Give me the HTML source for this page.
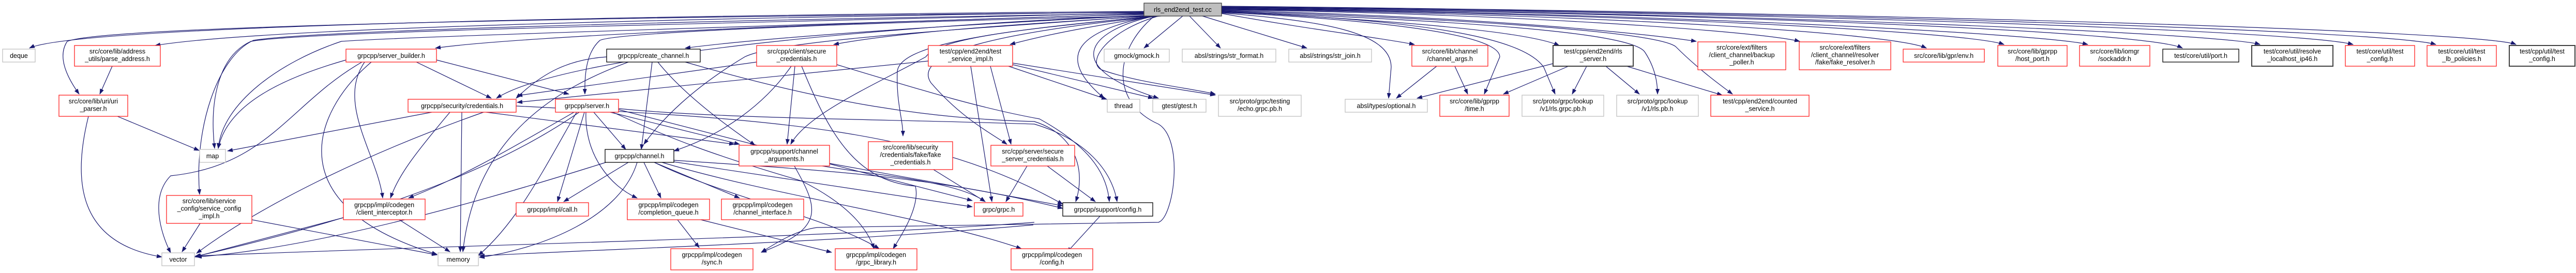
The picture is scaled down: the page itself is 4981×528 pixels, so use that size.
<!DOCTYPE html>
<html><head><meta charset="utf-8"><style>
html,body{margin:0;padding:0;background:#fff;}
svg{display:block;}
text{font-family:"Liberation Sans",sans-serif;font-size:12.5px;fill:#000;text-anchor:middle;}
.e{fill:none;stroke:#191970;stroke-width:1.2;marker-end:url(#a);}
.r{fill:#fff;stroke:#ff2020;stroke-width:1.3;}
.g{fill:#fff;stroke:#bfbfbf;stroke-width:1.3;}
.k{fill:#fff;stroke:#000;stroke-width:1.3;}
.d{fill:#fff;stroke:#404040;stroke-width:2;}
</style></head><body>
<svg width="4981" height="528" viewBox="0 0 4981 528" xmlns="http://www.w3.org/2000/svg">
<defs><marker id="a" markerUnits="userSpaceOnUse" markerWidth="11" markerHeight="8" refX="10" refY="4" orient="auto"><path d="M0,0 L11,4 L0,8 z" fill="#191970"/></marker></defs>
<g>
<path class="e" d="M2212,22 C1200,30 150,50 57,93"/>
<path class="e" d="M2212,23 C1300,35 500,55 300,88"/>
<path class="e" d="M2212,24 C1200,32 200,50 130,80 C110,110 130,150 153,182"/>
<path class="e" d="M2212,25 C1400,45 600,60 485,80 C420,110 405,200 415,287"/>
<path class="e" d="M2212,27 C1500,50 800,70 660,80 C540,120 430,200 422,287"/>
<path class="e" d="M2212,26 C1300,40 600,60 490,78 C420,110 375,250 386,376"/>
<path class="e" d="M2212,28 C1700,40 1000,70 842,93"/>
<path class="e" d="M2212,30 C1800,45 1100,100 960,190"/>
<path class="e" d="M2215,30 C1900,45 1500,70 1325,93"/>
<path class="e" d="M2215,31 C1800,40 1200,60 1160,78 C1135,100 1130,140 1131,182"/>
<path class="e" d="M2220,31 C1800,60 1500,80 1440,110 C1340,170 1280,230 1245,279"/>
<path class="e" d="M2225,31 C2000,45 1750,60 1612,86"/>
<path class="e" d="M2230,31 C2000,55 1820,70 1790,110 C1700,160 1560,220 1529,279"/>
<path class="e" d="M2235,31 C2150,45 2050,60 1953,86"/>
<path class="e" d="M2240,31 C1900,60 1735,90 1735,140 C1733,200 1746,230 1746,263"/>
<path class="e" d="M2245,31 C1950,60 1760,100 1800,160 C1860,230 1920,260 1947,279"/>
<path class="e" d="M2230,31 C2080,60 2040,110 2135,190"/>
<path class="e" d="M2232,31 C2100,60 2050,130 2240,190"/>
<path class="e" d="M2240,31 C2140,60 2100,120 2130,135 C2200,160 2300,170 2350,182"/>
<path class="e" d="M2232,31 C2150,100 2150,200 2240,240 C2290,270 2270,420 2240,430 L1580,440 C1540,445 1500,470 1472,488"/>
<path class="e" d="M2287,31 L2212,93"/>
<path class="e" d="M2300,31 L2360,93"/>
<path class="e" d="M2325,31 L2527,93"/>
<path class="e" d="M2362,26 C2550,60 2650,70 2735,86"/>
<path class="e" d="M2362,25 C2550,40 2690,60 2690,130 L2685,190"/>
<path class="e" d="M2362,24 C2600,35 2900,60 2900,110 L2870,182"/>
<path class="e" d="M2362,22 C2700,40 2950,60 3015,88"/>
<path class="e" d="M2362,23 C2800,40 2950,80 2985,130 L3007,182"/>
<path class="e" d="M2362,22 C2800,40 3150,60 3180,100 C3200,130 3205,160 3205,182"/>
<path class="e" d="M2362,21 C2800,35 3200,60 3240,90 C3280,130 3320,160 3350,182"/>
<path class="e" d="M2362,20 C2800,30 3150,60 3280,80"/>
<path class="e" d="M2362,19 C2900,25 3400,60 3480,80"/>
<path class="e" d="M2362,18 C3000,25 3650,60 3725,93"/>
<path class="e" d="M2362,17 C3100,25 3800,60 3875,86"/>
<path class="e" d="M2362,16 C3200,25 3950,65 4037,86"/>
<path class="e" d="M2362,15 C3300,25 4150,60 4220,93"/>
<path class="e" d="M2362,15 C3400,25 4300,65 4370,86"/>
<path class="e" d="M2362,14 C3500,25 4450,60 4550,86"/>
<path class="e" d="M2362,13 C3600,25 4620,60 4710,86"/>
<path class="e" d="M2362,12 C3700,25 4800,60 4865,86"/>
<path class="e" d="M217,128 L193,182"/>
<path class="e" d="M227,225 L385,291"/>
<path class="e" d="M171,225 C140,350 150,470 313,497"/>
<path class="e" d="M669,116 C550,150 440,200 422,287"/>
<path class="e" d="M700,120 C560,200 520,320 330,340 C290,380 310,450 330,489"/>
<path class="e" d="M718,120 C600,220 540,400 845,492"/>
<path class="e" d="M805,120 L950,190"/>
<path class="e" d="M844,116 L1100,182"/>
<path class="e" d="M705,120 C650,200 730,300 740,383"/>
<path class="e" d="M835,217 L440,292"/>
<path class="e" d="M870,217 C800,300 770,340 755,383"/>
<path class="e" d="M893,217 L890,487"/>
<path class="e" d="M935,217 C700,300 500,400 380,490"/>
<path class="e" d="M940,217 L1420,279"/>
<path class="e" d="M998,205 C1500,230 1800,250 2055,395"/>
<path class="e" d="M1148,217 L1210,289"/>
<path class="e" d="M1130,217 L1078,390"/>
<path class="e" d="M1133,217 C1130,300 1180,360 1232,383"/>
<path class="e" d="M1110,217 C1000,280 900,340 790,383"/>
<path class="e" d="M1120,217 C1000,300 800,400 378,496"/>
<path class="e" d="M1115,217 C1050,330 1000,430 925,494"/>
<path class="e" d="M1180,217 L1430,279"/>
<path class="e" d="M1196,210 C1400,230 1700,230 2000,240 C2100,270 2150,330 2160,390"/>
<path class="e" d="M1185,217 C1300,270 1380,300 1550,350 C1650,400 1680,450 1690,481"/>
<path class="e" d="M1196,212 L1880,388"/>
<path class="e" d="M1261,120 L1240,289"/>
<path class="e" d="M1272,120 C1320,180 1400,240 1460,281"/>
<path class="e" d="M1173,110 C1100,115 1050,140 998,190"/>
<path class="e" d="M1215,120 C1080,170 920,260 895,487"/>
<path class="e" d="M1325,120 C1600,200 1800,230 2000,235 C2080,260 2100,330 2080,390"/>
<path class="e" d="M1463,120 L1000,185"/>
<path class="e" d="M1530,128 C1480,200 1400,260 1303,292"/>
<path class="e" d="M1537,128 L1522,279"/>
<path class="e" d="M1550,128 C1600,250 1650,350 1770,360 C1780,400 1740,460 1727,481"/>
<path class="e" d="M1618,125 C1800,180 1900,210 2010,230 C2100,280 2140,330 2145,390"/>
<path class="e" d="M1795,118 L1000,198"/>
<path class="e" d="M1877,128 L1918,390"/>
<path class="e" d="M1915,128 L1955,279"/>
<path class="e" d="M1958,122 L2350,184"/>
<path class="e" d="M1958,125 L2230,190"/>
<path class="e" d="M1950,128 L2140,192"/>
<path class="e" d="M1215,314 L1090,390"/>
<path class="e" d="M1245,314 L1278,383"/>
<path class="e" d="M1265,314 L1430,383"/>
<path class="e" d="M1178,312 C900,400 600,480 380,497"/>
<path class="e" d="M1232,314 C1200,420 1050,480 927,498"/>
<path class="e" d="M1265,314 C1400,380 1600,420 1700,481"/>
<path class="e" d="M1303,310 C1600,330 1800,340 2055,403"/>
<path class="e" d="M1280,314 C1500,380 1800,420 1975,481"/>
<path class="e" d="M1303,313 L1880,400"/>
<path class="e" d="M1590,321 C1700,340 1850,350 1905,390"/>
<path class="e" d="M1604,316 L2055,398"/>
<path class="e" d="M1536,321 C1580,400 1600,440 1472,488"/>
<path class="e" d="M1310,425 L1352,479"/>
<path class="e" d="M1355,425 L1608,488"/>
<path class="e" d="M664,421 L376,497"/>
<path class="e" d="M772,425 L870,487"/>
<path class="e" d="M387,432 L352,487"/>
<path class="e" d="M487,425 L845,493"/>
<path class="e" d="M1805,328 L1905,390"/>
<path class="e" d="M1986,321 L1945,390"/>
<path class="e" d="M2025,321 L2118,390"/>
<path class="e" d="M2000,430 C1600,460 1000,470 378,495"/>
<path class="e" d="M1998,435 C1600,470 1200,480 927,495"/>
<path class="e" d="M2778,128 L2700,190"/>
<path class="e" d="M2813,128 L2838,182"/>
<path class="e" d="M3068,128 L3040,182"/>
<path class="e" d="M3105,128 L3170,182"/>
<path class="e" d="M3145,128 L3330,184"/>
<path class="e" d="M3003,123 L2740,190"/>
<path class="e" d="M3033,128 L2907,182"/>
<path class="e" d="M2127,418 L2063,488"/>
</g>
<rect x="2212" y="6" width="150" height="25" fill="#bfbfbf" stroke="#404040" stroke-width="1.3"/><text x="2287" y="23">rls_end2end_test.cc</text>

<rect class="g" x="5" y="95" width="63" height="25"/><text x="36.5" y="112">deque</text>
<rect class="r" x="144" y="88" width="166" height="40"/><text x="227" y="103.5">src/core/lib/address</text><text x="227" y="118">_utils/parse_address.h</text>
<rect class="r" x="669" y="95" width="175" height="25"/><text x="756.5" y="112">grpcpp/server_builder.h</text>
<rect class="k" x="1173" y="95" width="181" height="25"/><text x="1263.5" y="112">grpcpp/create_channel.h</text>
<rect class="r" x="1463" y="88" width="155" height="40"/><text x="1540.5" y="103.5">src/cpp/client/secure</text><text x="1540.5" y="118">_credentials.h</text>
<rect class="r" x="1795" y="88" width="163" height="40"/><text x="1876.5" y="103.5">test/cpp/end2end/test</text><text x="1876.5" y="118">_service_impl.h</text>
<rect class="g" x="2135" y="95" width="126" height="25"/><text x="2198" y="112">gmock/gmock.h</text>
<rect class="g" x="2286" y="95" width="181" height="25"/><text x="2376.5" y="112">absl/strings/str_format.h</text>
<rect class="g" x="2492" y="95" width="160" height="25"/><text x="2572" y="112">absl/strings/str_join.h</text>
<rect class="r" x="2730" y="88" width="147" height="40"/><text x="2803.5" y="103.5">src/core/lib/channel</text><text x="2803.5" y="118">/channel_args.h</text>
<rect class="d" x="3003" y="88" width="155" height="40"/><text x="3080.5" y="103.5">test/cpp/end2end/rls</text><text x="3080.5" y="118">_server.h</text>
<rect class="r" x="3283" y="81" width="170" height="54"/><text x="3368" y="96">src/core/ext/filters</text><text x="3368" y="110.5">/client_channel/backup</text><text x="3368" y="124.5">_poller.h</text>
<rect class="r" x="3479" y="81" width="177" height="54"/><text x="3567.5" y="96">src/core/ext/filters</text><text x="3567.5" y="110.5">/client_channel/resolver</text><text x="3567.5" y="124.5">/fake/fake_resolver.h</text>
<rect class="r" x="3680" y="95" width="157" height="25"/><text x="3758.5" y="112">src/core/lib/gpr/env.h</text>
<rect class="r" x="3863" y="88" width="134" height="40"/><text x="3930" y="103.5">src/core/lib/gprpp</text><text x="3930" y="118">/host_port.h</text>
<rect class="r" x="4021" y="88" width="136" height="40"/><text x="4089" y="103.5">src/core/lib/iomgr</text><text x="4089" y="118">/sockaddr.h</text>
<rect class="k" x="4182" y="95" width="147" height="25"/><text x="4255.5" y="112">test/core/util/port.h</text>
<rect class="d" x="4354" y="88" width="157" height="40"/><text x="4432.5" y="103.5">test/core/util/resolve</text><text x="4432.5" y="118">_localhost_ip46.h</text>
<rect class="r" x="4535" y="88" width="134" height="40"/><text x="4602" y="103.5">test/core/util/test</text><text x="4602" y="118">_config.h</text>
<rect class="r" x="4693" y="88" width="134" height="40"/><text x="4760" y="103.5">test/core/util/test</text><text x="4760" y="118">_lb_policies.h</text>
<rect class="d" x="4852" y="88" width="127" height="40"/><text x="4915.5" y="103.5">test/cpp/util/test</text><text x="4915.5" y="118">_config.h</text>

<rect class="r" x="114" y="184" width="133" height="41"/><text x="180.5" y="200">src/core/lib/uri/uri</text><text x="180.5" y="214.5">_parser.h</text>
<rect class="r" x="789" y="192" width="209" height="25"/><text x="893.5" y="209">grpcpp/security/credentials.h</text>
<rect class="r" x="1074" y="192" width="122" height="25"/><text x="1135" y="209">grpcpp/server.h</text>
<rect class="g" x="2141" y="192" width="63" height="25"/><text x="2172.5" y="209">thread</text>
<rect class="g" x="2229" y="192" width="103" height="25"/><text x="2280.5" y="209">gtest/gtest.h</text>
<rect class="g" x="2356" y="184" width="160" height="41"/><text x="2436" y="200">src/proto/grpc/testing</text><text x="2436" y="214.5">/echo.grpc.pb.h</text>
<rect class="g" x="2601" y="192" width="159" height="25"/><text x="2680.5" y="209">absl/types/optional.h</text>
<rect class="r" x="2784" y="184" width="134" height="41"/><text x="2851" y="200">src/core/lib/gprpp</text><text x="2851" y="214.5">/time.h</text>
<rect class="g" x="2943" y="184" width="158" height="41"/><text x="3022" y="200">src/proto/grpc/lookup</text><text x="3022" y="214.5">/v1/rls.grpc.pb.h</text>
<rect class="g" x="3126" y="184" width="158" height="41"/><text x="3205" y="200">src/proto/grpc/lookup</text><text x="3205" y="214.5">/v1/rls.pb.h</text>
<rect class="r" x="3308" y="184" width="190" height="41"/><text x="3403" y="200">test/cpp/end2end/counted</text><text x="3403" y="214.5">_service.h</text>

<rect class="g" x="386" y="289" width="50" height="25"/><text x="411" y="306">map</text>
<rect class="k" x="1170" y="289" width="133" height="25"/><text x="1236.5" y="306">grpcpp/channel.h</text>
<rect class="r" x="1429" y="281" width="175" height="40"/><text x="1516.5" y="297">grpcpp/support/channel</text><text x="1516.5" y="311.5">_arguments.h</text>
<rect class="r" x="1679" y="274" width="163" height="54"/><text x="1760.5" y="289">src/core/lib/security</text><text x="1760.5" y="303.5">/credentials/fake/fake</text><text x="1760.5" y="318">_credentials.h</text>
<rect class="r" x="1916" y="281" width="162" height="40"/><text x="1997" y="297">src/cpp/server/secure</text><text x="1997" y="311.5">_server_credentials.h</text>

<rect class="r" x="322" y="378" width="165" height="54"/><text x="404.5" y="393">src/core/lib/service</text><text x="404.5" y="407.5">_config/service_config</text><text x="404.5" y="422">_impl.h</text>
<rect class="r" x="664" y="385" width="158" height="40"/><text x="743" y="400.5">grpcpp/impl/codegen</text><text x="743" y="415">/client_interceptor.h</text>
<rect class="r" x="998" y="392" width="140" height="26"/><text x="1068" y="409.5">grpcpp/impl/call.h</text>
<rect class="r" x="1213" y="385" width="159" height="40"/><text x="1292.5" y="400.5">grpcpp/impl/codegen</text><text x="1292.5" y="415">/completion_queue.h</text>
<rect class="r" x="1395" y="385" width="159" height="40"/><text x="1474.5" y="400.5">grpcpp/impl/codegen</text><text x="1474.5" y="415">/channel_interface.h</text>
<rect class="r" x="1884" y="392" width="94" height="26"/><text x="1931" y="409.5">grpc/grpc.h</text>
<rect class="k" x="2055" y="392" width="174" height="26"/><text x="2142" y="409.5">grpcpp/support/config.h</text>

<rect class="g" x="313" y="489" width="63" height="25"/><text x="344.5" y="506">vector</text>
<rect class="g" x="847" y="489" width="78" height="25"/><text x="886" y="506">memory</text>
<rect class="r" x="1297" y="481" width="159" height="41"/><text x="1376.5" y="497">grpcpp/impl/codegen</text><text x="1376.5" y="511.5">/sync.h</text>
<rect class="r" x="1615" y="481" width="158" height="41"/><text x="1694" y="497">grpcpp/impl/codegen</text><text x="1694" y="511.5">/grpc_library.h</text>
<rect class="r" x="1955" y="481" width="158" height="41"/><text x="2034" y="497">grpcpp/impl/codegen</text><text x="2034" y="511.5">/config.h</text>
</svg>
</body></html>
